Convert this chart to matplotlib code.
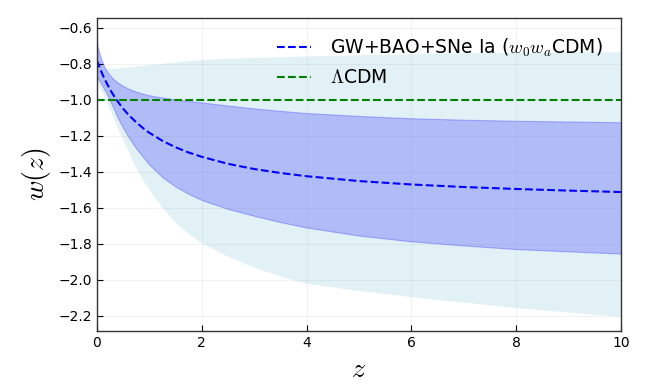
import matplotlib.pyplot as plt
import numpy as np

plt.rcParams['mathtext.fontset'] = 'cm'

# redshift grid and values
z = [0, 0.05, 0.1, 0.15, 0.2, 0.3, 0.4, 0.5, 0.6, 0.75, 0.9, 1, 1.25, 1.5, 1.75,
     2, 2.5, 3, 3.5, 4, 5, 6, 7, 8, 9, 10]
w_mean = [-0.78, -0.818, -0.853, -0.885, -0.914, -0.966, -1.010, -1.049, -1.082,
          -1.125, -1.162, -1.183, -1.228, -1.264, -1.293, -1.317, -1.356, -1.385,
          -1.407, -1.425, -1.452, -1.471, -1.485, -1.496, -1.505, -1.513]
# 1 sigma band
w_up1 = [-0.69, -0.74, -0.785, -0.82, -0.845, -0.88, -0.905, -0.923, -0.938,
         -0.955, -0.968, -0.975, -0.988, -0.998, -1.007, -1.015, -1.032, -1.048,
         -1.062, -1.074, -1.09, -1.103, -1.111, -1.117, -1.121, -1.125]
w_lo1 = [-0.87, -0.895, -0.92, -0.945, -0.972, -1.035, -1.10, -1.155, -1.205,
         -1.27, -1.325, -1.36, -1.43, -1.482, -1.523, -1.557, -1.607, -1.645,
         -1.68, -1.71, -1.755, -1.787, -1.81, -1.83, -1.843, -1.855]
# 2 sigma band
w_up2 = [-0.63, -0.76, -0.805, -0.822, -0.826, -0.826, -0.824, -0.821, -0.818,
         -0.813, -0.808, -0.805, -0.797, -0.79, -0.783, -0.777, -0.77, -0.765,
         -0.761, -0.757, -0.75, -0.745, -0.74, -0.737, -0.735, -0.733]
w_lo2 = [-0.91, -0.93, -0.96, -0.99, -1.02, -1.09, -1.16, -1.225, -1.29, -1.38,
         -1.455, -1.50, -1.60, -1.68, -1.745, -1.795, -1.87, -1.93, -1.98, -2.02,
         -2.06, -2.095, -2.125, -2.155, -2.18, -2.205]
w_lcdm = -1.0

fig = plt.figure(figsize=(6.45, 3.88), dpi=100)
ax = fig.add_axes([0.150, 0.147, 0.813, 0.807])

ax.fill_between(z, w_lo2, w_up2, color='lightblue', alpha=0.35, lw=0)
ax.fill_between(z, w_lo1, w_up1, facecolor=(0, 0, 1, 0.22), edgecolor=(0, 0, 1, 0.25), lw=0.8)
ax.plot(z, w_mean, 'b--', lw=1.5, label=r'GW+BAO+SNe Ia ($w_0w_a$CDM)')
ax.axhline(w_lcdm, color='green', ls='--', lw=1.5, label=r'$\Lambda$CDM')

ax.set_xlim(0, 10)
ax.set_ylim(-2.285, -0.545)
ax.set_xticks(np.arange(0, 11, 2))
ax.set_yticks(np.arange(-2.2, -0.5, 0.2))
ax.tick_params(direction='in', length=4, labelsize=10, top=False, right=False)
ax.grid(True, color='gray', alpha=0.12, lw=0.6)
for s in ax.spines.values():
    s.set_color('#333333')
    s.set_linewidth(1.0)

ax.set_xlabel(r'$z$', fontsize=20)
ax.set_ylabel(r'$w(z)$', fontsize=20)
ax.legend(loc='upper right', frameon=False, fontsize=13.5, handlelength=1.8,
          handletextpad=1.0, borderaxespad=0.6)

fig.savefig('out.png', dpi=100)
